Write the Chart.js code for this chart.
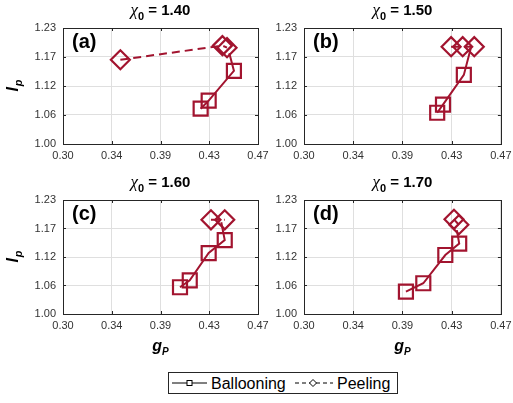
<!DOCTYPE html>
<html>
<head>
<meta charset="utf-8">
<script src="https://cdn.jsdelivr.net/npm/chart.js@4"></script>
<style>
  html, body { margin: 0; padding: 0; background: #fff; overflow: hidden; width: 513px; height: 403px; }
  canvas { position: absolute; }
  #legend { position: absolute; left: 168px; top: 372px; }
</style>
</head>
<body>
<canvas id="pa"></canvas>
<canvas id="pb"></canvas>
<canvas id="pc"></canvas>
<canvas id="pd"></canvas>
<svg id="legend" width="230" height="22">
  <rect x="0.5" y="0.5" width="229" height="21" fill="#fff" stroke="#262626"/>
  <line x1="4" y1="11" x2="39" y2="11" stroke="#000" stroke-width="1"/>
  <rect x="19" y="8.5" width="5" height="5" fill="#fff" stroke="#000"/>
  <text x="43" y="16.5" font-family="Liberation Sans, Arial, sans-serif" font-size="16" fill="#000">Ballooning</text>
  <line x1="127" y1="11" x2="165" y2="11" stroke="#000" stroke-width="1" stroke-dasharray="4,3"/>
  <path d="M145 7.5 L148.5 11 L145 14.5 L141.5 11 Z" fill="#fff" stroke="#000"/>
  <text x="169" y="16.5" font-family="Liberation Sans, Arial, sans-serif" font-size="16" fill="#000">Peeling</text>
</svg>
<script>
// axis ticks (MATLAB linspace, shown with 2 decimals)
const xTicks = [0.30, 0.3425, 0.385, 0.4275, 0.47];
const xTickLabels = ['0.30', '0.34', '0.39', '0.43', '0.47'];
const yTicks = [1.00, 1.0575, 1.115, 1.1725, 1.23];
const yTickLabels = ['1.00', '1.06', '1.12', '1.17', '1.23'];

// chi0 values of the four panels
const chiValues = ['1.40', '1.50', '1.60', '1.70'];
const panelTags = ['(a)', '(b)', '(c)', '(d)'];

// ballooning: last point is where the line ends (no marker)
const ballX_a = [0.420, 0.427, 0.449, 0.445];
const ballY_a = [1.070, 1.086, 1.145, 1.180];
const peelX_a = [0.350, 0.439, 0.443];
const peelY_a = [1.167, 1.195, 1.191];

const ballX_b = [0.415, 0.420, 0.438, 0.444];
const ballY_b = [1.062, 1.078, 1.137, 1.190];
const peelX_b = [0.427, 0.437, 0.447];
const peelY_b = [1.193, 1.193, 1.193];

const ballX_c = [0.402, 0.4105, 0.427, 0.441, 0.438];
const ballY_c = [1.054, 1.068, 1.123, 1.149, 1.185];
const peelX_c = [0.429, 0.441];
const peelY_c = [1.190, 1.190];

const ballX_d = [0.388, 0.403, 0.422, 0.434, 0.432];
const ballY_d = [1.045, 1.062, 1.119, 1.142, 1.169];
const peelX_d = [0.4295, 0.4337];
const peelY_d = [1.191, 1.180];

const RED = '#A2142F';
const FONT = '"Liberation Sans", Arial, sans-serif';

function pts(xs, ys) {
  return xs.map((x, i) => ({ x: x, y: ys[i] }));
}

const panelText = {
  id: 'panelText',
  afterDraw(chart, args, o) {
    const ctx = chart.ctx;
    const a = chart.chartArea;
    ctx.save();

    // axes box + inward ticks
    ctx.strokeStyle = '#262626';
    ctx.lineWidth = 1;
    ctx.strokeRect(Math.round(a.left) + 0.5, Math.round(a.top) + 0.5,
                   Math.round(a.right - a.left), Math.round(a.bottom - a.top));
    const xs = chart.scales.x, ys = chart.scales.y;
    ctx.beginPath();
    xTicks.forEach(v => {
      const px = Math.round(xs.getPixelForValue(v)) + 0.5;
      ctx.moveTo(px, a.bottom); ctx.lineTo(px, a.bottom - 3);
      ctx.moveTo(px, a.top); ctx.lineTo(px, a.top + 3);
    });
    yTicks.forEach(v => {
      const py = Math.round(ys.getPixelForValue(v)) + 0.5;
      ctx.moveTo(a.left, py); ctx.lineTo(a.left + 3, py);
      ctx.moveTo(a.right, py); ctx.lineTo(a.right - 3, py);
    });
    ctx.stroke();

    ctx.fillStyle = '#000';
    ctx.textAlign = 'left';
    ctx.textBaseline = 'alphabetic';

    // title: chi_0 = value
    const cx = (a.left + a.right) / 2, by = a.top - 13;
    const f1 = 'italic 17px "Liberation Serif", serif';
    const f2 = 'bold 11px ' + FONT;
    const f3 = 'bold 15px ' + FONT;
    const t3 = ' = ' + o.chi;
    ctx.font = f1; const w1 = ctx.measureText('\u03C7').width;
    ctx.font = f2; const w2 = ctx.measureText('0').width;
    ctx.font = f3; const w3 = ctx.measureText(t3).width;
    let x = cx - (w1 + w2 + w3) / 2;
    ctx.font = f1; ctx.fillText('\u03C7', x, by); x += w1;
    ctx.font = f2; ctx.fillText('0', x, by + 5); x += w2;
    ctx.font = f3; ctx.fillText(t3, x, by);

    // panel tag
    ctx.font = 'bold 20px ' + FONT;
    ctx.fillText(o.tag, a.left + 9, a.top + 20);

    // y label I_p
    if (o.ylab) {
      ctx.save();
      ctx.translate(17.5, (a.top + a.bottom) / 2);
      ctx.rotate(-Math.PI / 2);
      const fa = 'italic bold 16px ' + FONT, fb = 'italic bold 11px ' + FONT;
      ctx.font = fa; const wa = ctx.measureText('I').width;
      ctx.font = fb; const wb = ctx.measureText('p').width;
      ctx.font = fa; ctx.fillText('I', -(wa + wb) / 2, 0);
      ctx.font = fb; ctx.fillText('p', -(wa + wb) / 2 + wa + 1, 4);
      ctx.restore();
    }

    // x label g_P
    if (o.xlab) {
      const fa = 'italic bold 16px ' + FONT, fb = 'italic bold 10px ' + FONT;
      ctx.font = fa; const wa = ctx.measureText('g').width;
      ctx.font = fb; const wb = ctx.measureText('P').width;
      const lx = cx - (wa + wb) / 2, ly = a.bottom + 37;
      ctx.font = fa; ctx.fillText('g', lx, ly);
      ctx.font = fb; ctx.fillText('P', lx + wa, ly + 4);
    }
    ctx.restore();
  }
};

function makePanel(id, pos, area, ballX, ballY, peelX, peelY, idx, opts) {
  const cv = document.getElementById(id);
  cv.width = pos[2]; cv.height = pos[3];
  cv.style.left = pos[0] + 'px'; cv.style.top = pos[1] + 'px';
  cv.style.width = pos[2] + 'px'; cv.style.height = pos[3] + 'px';
  const nb = ballX.length;
  new Chart(cv, {
    type: 'scatter',
    data: {
      datasets: [
        {
          label: 'Ballooning',
          data: pts(ballX, ballY),
          showLine: true,
          borderColor: RED,
          borderWidth: 2,
          pointStyle: 'rect',
          pointRadius: c => c.dataIndex < nb - 1 ? 9.9 : 0,
          pointBorderWidth: 2.2,
          pointBorderColor: RED,
          pointBackgroundColor: 'rgba(0,0,0,0)'
        },
        {
          label: 'Peeling',
          data: pts(peelX, peelY),
          showLine: true,
          borderColor: RED,
          borderWidth: 2,
          borderDash: [8, 5],
          pointStyle: 'rectRot',
          pointRadius: 9.5,
          pointBorderWidth: 2.2,
          pointBorderColor: RED,
          pointBackgroundColor: 'rgba(0,0,0,0)'
        }
      ]
    },
    options: {
      responsive: false,
      animation: false,
      events: [],
      layout: { padding: { left: 0, top: area[1] - pos[1], right: pos[0] + pos[2] - area[2], bottom: 0 } },
      plugins: {
        legend: { display: false },
        title: { display: false },
        tooltip: { enabled: false },
        panelText: { chi: chiValues[idx], tag: panelTags[idx], ylab: opts.ylab, xlab: opts.xlab }
      },
      scales: {
        x: {
          type: 'linear',
          min: 0.30, max: 0.47,
          afterBuildTicks: s => { s.ticks = xTicks.map(v => ({ value: v })); },
          afterFit: s => { s.height = pos[1] + pos[3] - area[3]; s.paddingLeft = 0; s.paddingRight = 0; },
          border: { display: false },
          grid: { color: '#dfdfdf', lineWidth: 1, drawTicks: false },
          ticks: {
            padding: 5, maxRotation: 0, autoSkip: false,
            color: '#333', font: { family: FONT, size: 11 },
            callback: (v, i) => xTickLabels[i]
          }
        },
        y: {
          type: 'linear',
          min: 1.00, max: 1.23,
          afterBuildTicks: s => { s.ticks = yTicks.map(v => ({ value: v })); },
          afterFit: s => { s.width = area[0] - pos[0]; s.paddingTop = 0; s.paddingBottom = 0; },
          border: { display: false },
          grid: { color: '#dfdfdf', lineWidth: 1, drawTicks: false },
          ticks: {
            padding: 7, autoSkip: false,
            color: '#333', font: { family: FONT, size: 11 },
            callback: (v, i) => yTickLabels[i]
          }
        }
      }
    },
    plugins: [panelText]
  });
}

makePanel('pa', [0, 0, 280, 170], [63, 28, 258, 144], ballX_a, ballY_a, peelX_a, peelY_a, 0, { ylab: true, xlab: false });
makePanel('pb', [262, 0, 251, 170], [304, 28, 505, 144], ballX_b, ballY_b, peelX_b, peelY_b, 1, { ylab: false, xlab: false });
makePanel('pc', [0, 172, 280, 190], [63, 200, 258, 314], ballX_c, ballY_c, peelX_c, peelY_c, 2, { ylab: true, xlab: true });
makePanel('pd', [262, 172, 251, 190], [304, 200, 505, 314], ballX_d, ballY_d, peelX_d, peelY_d, 3, { ylab: false, xlab: true });
</script>
</body>
</html>
